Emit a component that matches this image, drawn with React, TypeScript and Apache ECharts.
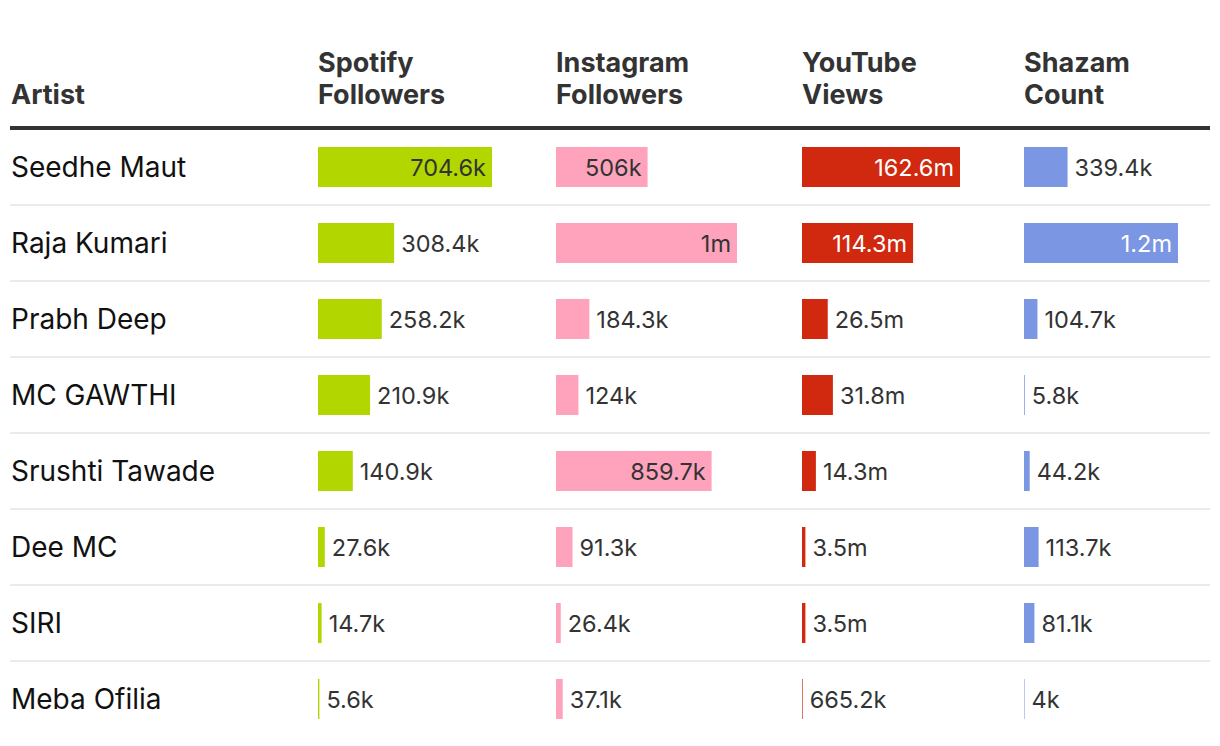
import React, { useEffect, useRef } from "react";
import * as echarts from "echarts";

const artists = ["Seedhe Maut", "Raja Kumari", "Prabh Deep", "MC GAWTHI", "Srushti Tawade", "Dee MC", "SIRI", "Meba Ofilia"];
const headers = ["Artist", "Spotify\nFollowers", "Instagram\nFollowers", "YouTube\nViews", "Shazam\nCount"];
// values in thousands (k) except YouTube in millions (m)
const spotifyK = [704.6, 308.4, 258.2, 210.9, 140.9, 27.6, 14.7, 5.6];
const instagramK = [506, 1000, 184.3, 124, 859.7, 91.3, 26.4, 37.1];
const youtubeM = [162.6, 114.3, 26.5, 31.8, 14.3, 3.5, 3.5, 0.6652];
const shazamK = [339.4, 1200, 104.7, 5.8, 44.2, 113.7, 81.1, 4];

const FONT = "Inter, 'Noto Sans', sans-serif";

function fmt1(x: number) {
  return String(Number(x.toFixed(1)));
}
function fmtK(v: number) {
  return v >= 1000 ? fmt1(v / 1000) + "m" : fmt1(v) + "k";
}
function fmtM(v: number) {
  return v < 1 ? fmt1(v * 1000) + "k" : fmt1(v) + "m";
}

export default function App() {
  const ref = useRef<HTMLDivElement>(null);
  useEffect(() => {
    document.body.style.margin = "0";
    const chart = echarts.init(ref.current!, null, { renderer: "svg" });
    const top = 129;
    const rowH = 76;
    const height = rowH * artists.length;
    const cols = [
      { left: 318, width: 174, max: 704.6, data: spotifyK, color: "#b2d600", inside: "#333333", f: fmtK },
      { left: 556, width: 181, max: 1000, data: instagramK, color: "#ffa3bd", inside: "#333333", f: fmtK },
      { left: 802, width: 158, max: 162.6, data: youtubeM, color: "#d12810", inside: "#ffffff", f: fmtM },
      { left: 1024, width: 154, max: 1200, data: shazamK, color: "#7b96e3", inside: "#ffffff", f: fmtK },
    ];
    const grids: any[] = [{ left: 10, width: 1200, top, height }];
    const xAxes: any[] = [{ gridIndex: 0, type: "value", min: 0, max: 1, show: false }];
    const yAxes: any[] = [
      {
        gridIndex: 0,
        type: "category",
        inverse: true,
        data: artists,
        axisLine: { show: false },
        axisTick: { show: false },
        splitLine: { show: true, showMinLine: false, showMaxLine: false, lineStyle: { color: "#ebebeb", width: 2 } },
        axisLabel: { inside: true, margin: 1, fontFamily: FONT, fontSize: 28, color: "#111111" },
      },
    ];
    const series: any[] = [];
    cols.forEach((c, i) => {
      const gi = i + 1;
      grids.push({ left: c.left, width: c.width, top, height });
      xAxes.push({ gridIndex: gi, type: "value", min: 0, max: c.max, show: false });
      yAxes.push({ gridIndex: gi, type: "category", inverse: true, data: artists, show: false });
      series.push({
        type: "bar",
        xAxisIndex: gi,
        yAxisIndex: gi,
        barWidth: 40,
        itemStyle: { color: c.color },
        data: c.data.map((v) => {
          const px = (v / c.max) * c.width;
          const inside = px >= 85;
          return {
            value: v,
            label: {
              show: true,
              position: inside ? "insideRight" : "right",
              distance: inside ? 6 : 7,
              color: inside ? c.inside : "#333333",
              fontFamily: FONT,
              fontSize: 23.5,
              formatter: () => c.f(v),
            },
          };
        }),
      });
    });
    const headerX = [11, 318, 556, 802, 1024];
    chart.setOption({
      animation: false,
      grid: grids,
      xAxis: xAxes,
      yAxis: yAxes,
      series,
      graphic: [
        ...headers.map((h, i) => ({
          type: "text",
          x: headerX[i],
          y: 110,
          style: {
            text: h,
            fontFamily: FONT,
            fontSize: 27,
            fontWeight: "bold",
            fill: "#333333",
            lineHeight: 32,
            verticalAlign: "bottom",
          },
        })),
        { type: "rect", shape: { x: 10, y: 126, width: 1200, height: 4 }, style: { fill: "#333333" } },
      ],
    });
    return () => chart.dispose();
  }, []);
  return <div ref={ref} style={{ width: 1220, height: 746 }} />;
}
